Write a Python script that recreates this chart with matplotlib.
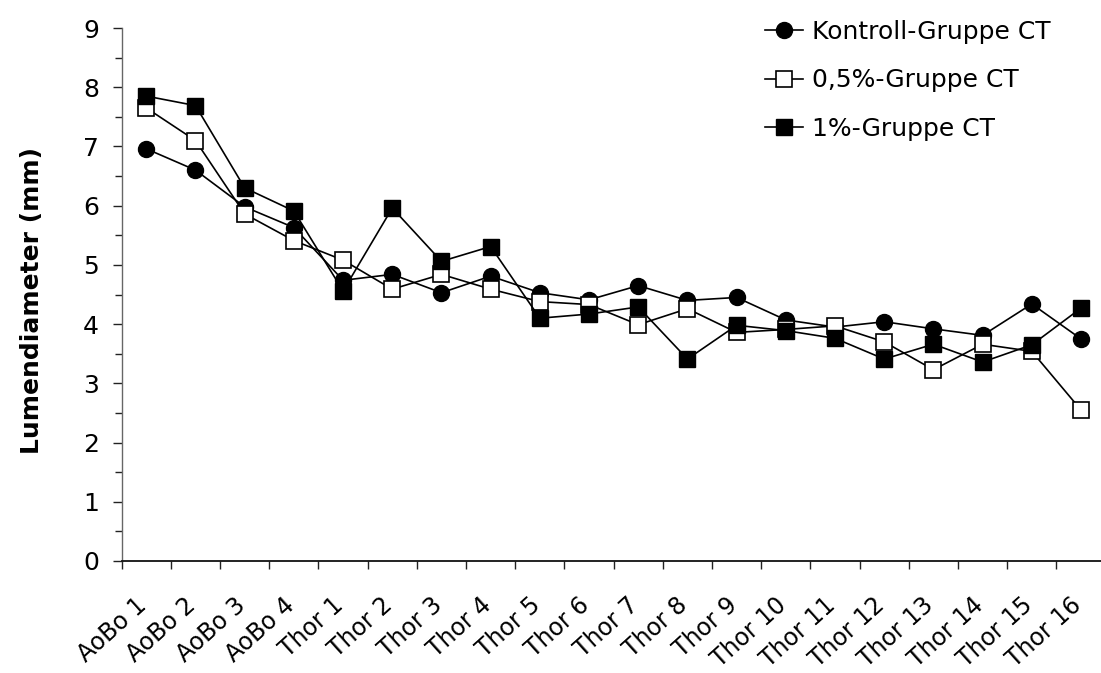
import matplotlib
matplotlib.use("Agg")
import matplotlib.pyplot as plt
from matplotlib.transforms import ScaledTranslation
import numpy as np

plt.rcParams['font.family'] = ['DejaVu Sans']

segments = ["AoBo 1", "AoBo 2", "AoBo 3", "AoBo 4",
            "Thor 1", "Thor 2", "Thor 3", "Thor 4", "Thor 5", "Thor 6",
            "Thor 7", "Thor 8", "Thor 9", "Thor 10", "Thor 11", "Thor 12",
            "Thor 13", "Thor 14", "Thor 15", "Thor 16"]

kontroll = [6.96, 6.60, 5.98, 5.63, 4.74, 4.84, 4.53, 4.81, 4.53, 4.41,
            4.65, 4.40, 4.45, 4.07, 3.95, 4.04, 3.92, 3.81, 4.34, 3.75]
gruppe_05 = [7.65, 7.10, 5.86, 5.41, 5.08, 4.59, 4.84, 4.59, 4.38, 4.33,
             3.99, 4.26, 3.86, 3.91, 3.97, 3.70, 3.23, 3.66, 3.54, 2.55]
gruppe_1 = [7.85, 7.69, 6.30, 5.91, 4.56, 5.96, 5.06, 5.31, 4.10, 4.17,
            4.29, 3.41, 3.98, 3.89, 3.76, 3.41, 3.66, 3.36, 3.65, 4.27]

labels = ["Kontroll-Gruppe CT", "0,5%-Gruppe CT", "1%-Gruppe CT"]

W, H = 1101, 673
fig = plt.figure(figsize=(W / 100, H / 100), dpi=100)

# plot area in pixel terms: left spine at 122, y=0 at 561, y=9 at 28
left_px, right_px, top_px, bottom_px = 121.7, 1105.6, 28.0, 561.0
ax = fig.add_axes([left_px / W, 1 - bottom_px / H,
                   (right_px - left_px) / W, (bottom_px - top_px) / H])

x = np.arange(len(segments))
lw = 1.2
ax.plot(x, kontroll, color='black', lw=lw, marker='o', ms=11.5,
        mfc='black', mec='black', label=labels[0])
ax.plot(x, gruppe_05, color='black', lw=lw, marker='s', ms=11.5,
        mfc='white', mec='black', mew=1.2, label=labels[1])
ax.plot(x, gruppe_1, color='black', lw=lw, marker='s', ms=11.5,
        mfc='black', mec='black', label=labels[2])

ax.set_xlim(-0.5, len(segments) - 0.5)
ax.set_ylim(0, 9)

# category boundaries carry the tick marks, labels sit at the centres
ax.set_xticks(np.arange(-0.5, len(segments), 1.0))
ax.set_xticklabels([])
ax.set_xticks(x, minor=True)
ax.set_xticklabels(segments, minor=True, rotation=42, ha='right',
                   rotation_mode='anchor', fontsize=17)
ax.tick_params(axis='x', which='major', direction='out', length=6,
               width=1, color='#222222')
ax.tick_params(axis='x', which='minor', length=0, pad=23)
shift = ScaledTranslation(-11 / 100, 0, fig.dpi_scale_trans)
for lab in ax.get_xticklabels(minor=True):
    lab.set_transform(lab.get_transform() + shift)

ax.set_yticks(np.arange(0, 10, 1))
ax.set_yticks(np.arange(0.5, 9, 1.0), minor=True)
ax.tick_params(axis='y', which='major', direction='out', length=6.5,
               width=1, labelsize=18, pad=10, color='#222222')
ax.tick_params(axis='y', which='minor', direction='out', length=5,
               width=1, color='#222222')

for s in ['top', 'right']:
    ax.spines[s].set_visible(False)
ax.spines['left'].set_color('#666666')
ax.spines['bottom'].set_color('#111111')
ax.spines['left'].set_linewidth(1.0)
ax.spines['bottom'].set_linewidth(1.3)

fig.text(32 / W, 1 - 300 / H, "Lumendiameter (mm)", rotation=90,
         ha='center', va='center', fontsize=18, fontweight='bold')

fig.legend(loc='upper left', bbox_to_anchor=(765 / W, 1 - 20 / H),
           frameon=False, fontsize=18, handlelength=1.52, handletextpad=0.36,
           labelspacing=0.98, borderpad=0, borderaxespad=0, markerscale=1.0)

fig.savefig("out.png", dpi=100, facecolor='white')
